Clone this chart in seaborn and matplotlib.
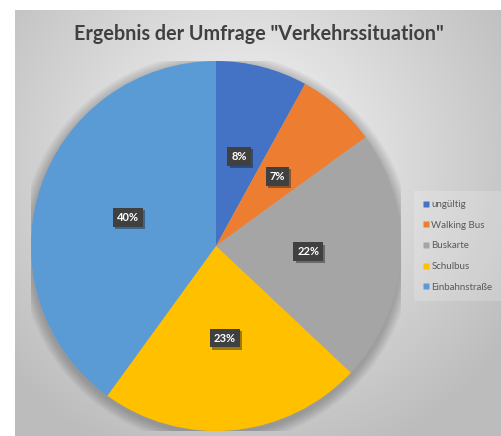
import numpy as np
import matplotlib
matplotlib.use('Agg')
import matplotlib.pyplot as plt
import matplotlib.patheffects as pe
from matplotlib.patches import Circle
from matplotlib.lines import Line2D
import seaborn as sns

categories = ['ungültig', 'Walking Bus', 'Buskarte', 'Schulbus', 'Einbahnstraße']
shares = [8, 7, 22, 23, 40]
colors = sns.color_palette(['#4472C4', '#ED7D31', '#A5A5A5', '#FFC000', '#5B9BD5'])

sns.set_style('white')
plt.rcParams['font.family'] = ['Lato', 'DejaVu Sans']

W, H = 501, 436
fig = plt.figure(figsize=(W / 100, H / 100), dpi=100)
fig.patch.set_facecolor('white')

# gradient panel behind the chart
bg = fig.add_axes([15 / W, 0, (W - 15) / W, (H - 10) / H])
bg.set_axis_off()
yy, xx = np.mgrid[0:426, 0:486]
d = np.sqrt(((xx - 230) / 330) ** 2 + ((yy - 150) / 330) ** 2)
shade = np.clip(0.97 - 0.24 * d, 0.74, 0.97)
bg.imshow(np.dstack([shade] * 3), aspect='auto', extent=[0, 1, 0, 1], origin='upper')
bg.set_xlim(0, 1)
bg.set_ylim(0, 1)

# pie axes: center (216, 246) px, radius 185 px
cx, cy, r = 216, 246, 185
ax = fig.add_axes([(cx - r) / W, (H - cy - r) / H, 2 * r / W, 2 * r / H])
ax.set_axis_off()

# soft shadow round the pie
for k in range(10):
    ax.add_patch(Circle((0.0, -0.015), 1.0 + 0.006 * (k + 1), color='black',
                        alpha=0.025, lw=0, zorder=0))

wedges, texts, autotexts = ax.pie(
    shares, colors=colors, startangle=90, counterclock=False,
    autopct='%.0f%%', pctdistance=0.5, radius=1.0,
    wedgeprops=dict(linewidth=0),
    textprops=dict(color='white', fontsize=8, fontweight='bold'))
for w in wedges:
    w.set_zorder(2)
for t in autotexts:
    t.set_zorder(5)
    t.set_bbox(dict(boxstyle='square,pad=0.35', facecolor='#404040', edgecolor='none'))
    t.get_bbox_patch().set_path_effects([pe.withSimplePatchShadow(offset=(1.5, -1.5), alpha=0.4)])
ax.set_xlim(-1, 1)
ax.set_ylim(-1, 1)
ax.set_aspect('equal')

fig.text(259 / W, 1 - 34 / H, 'Ergebnis der Umfrage "Verkehrssituation"',
         ha='center', va='center', fontsize=14.2, fontweight='bold', color='#404040')

handles = [Line2D([], [], marker='s', linestyle='none', markersize=4.5,
                  markerfacecolor=c, markeredgecolor='none') for c in colors]
leg = fig.legend(handles, categories, loc='center left',
                 bbox_to_anchor=(412 / W, 1 - 246 / H), frameon=True,
                 fontsize=7, handlelength=0.6, handletextpad=0.3,
                 labelspacing=1.2, borderpad=0.6, labelcolor='#595959')
leg.get_frame().set_facecolor('white')
leg.get_frame().set_alpha(0.18)
leg.get_frame().set_edgecolor('none')
leg.get_frame().set_boxstyle('square')

fig.savefig('out.png', dpi=100)
